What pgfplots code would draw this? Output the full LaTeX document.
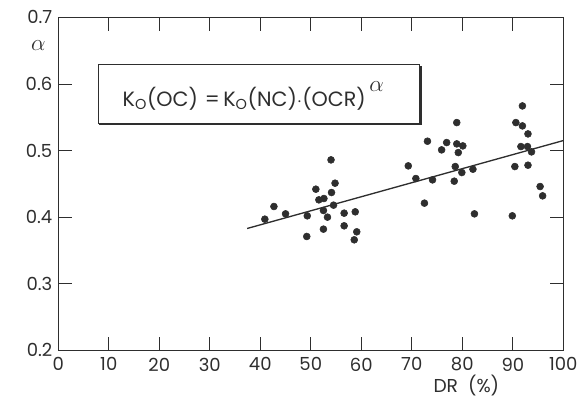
\documentclass[border=0pt]{standalone}
\usepackage{pgfplots}
\pgfplotsset{compat=1.18}
\usepackage{fontspec}
\setmainfont{Poppins}
\definecolor{ink}{HTML}{2E2E2E}
\pgfplotstableread{
x a
54.0 0.486
54.8 0.451
51.0 0.442
54.1 0.437
51.6 0.426
52.6 0.428
42.7 0.416
54.5 0.418
40.9 0.397
45.0 0.405
49.3 0.402
52.5 0.410
53.3 0.400
56.6 0.406
58.8 0.408
52.5 0.382
56.6 0.387
59.1 0.378
49.2 0.371
58.6 0.366
78.9 0.542
73.1 0.514
76.9 0.512
78.9 0.510
80.1 0.507
75.9 0.501
79.2 0.497
69.3 0.477
78.6 0.476
79.9 0.467
82.1 0.472
70.8 0.458
74.1 0.456
78.4 0.454
72.5 0.421
82.4 0.405
91.9 0.567
90.6 0.542
91.9 0.537
93.0 0.525
91.6 0.506
92.9 0.506
93.7 0.498
90.4 0.476
93.0 0.478
95.4 0.446
95.9 0.432
89.9 0.402
}\pts
\begin{document}
\begin{tikzpicture}
\begin{axis}[name=ax, scale only axis, width=378.75pt, height=249.75pt,
  xmin=0, xmax=100, ymin=0.2, ymax=0.7,
  xtick={0,10,20,30,40,50,60,70,80,90,100},
  ytick={0.2,0.3,0.4,0.5,0.6,0.7},
  tick align=inside, major tick length=10pt,
  axis line style={line width=0.6pt, color=ink},
  every tick/.style={line width=0.6pt, color=ink},
  /pgf/number format/assume math mode=true,
  ticklabel style={font=\fontsize{13.5}{15}\selectfont, color=ink},
  xticklabel style={yshift=-2pt},
  yticklabel style={xshift=-1pt, /pgf/number format/.cd, fixed, fixed zerofill, precision=1},
  clip=false]
\addplot[only marks, mark=*, mark size=2.6pt, color=ink] table[x=x, y=a] {\pts};
\addplot[no marks, line width=1pt, color=ink] coordinates {(37.4,0.383) (100,0.515)};
\draw[line width=0.7pt, color=ink] (axis cs:7.9,0.629) rectangle (axis cs:71.6,0.540);
\draw[line width=1.6pt, color=ink] (axis cs:8.1,0.5395) -- (axis cs:71.9,0.5395) -- (axis cs:71.9,0.627);
\node[font=\fontsize{15.5}{17}\selectfont, color=ink] at (axis cs:38.6,0.582) {K\textsubscript{O}(OC)\,\,=\,K\textsubscript{O}(NC)$\cdot$(OCR)\,\raisebox{1.3ex}{\fontsize{17}{18}\selectfont$\alpha$}};
\node[anchor=east, font=\fontsize{16}{17}\selectfont, color=ink] at ([xshift=-6pt]rel axis cs:0,0.916) {$\alpha$};
\node[font=\fontsize{14}{16}\selectfont, color=ink] at ([yshift=-26pt]rel axis cs:0.808,0) {DR\ \ (\%)};
\end{axis}
\path[use as bounding box] ([xshift=-43.7pt, yshift=-39.75pt]ax.south west) rectangle ([xshift=14pt, yshift=13pt]ax.north east);
\end{tikzpicture}
\end{document}
